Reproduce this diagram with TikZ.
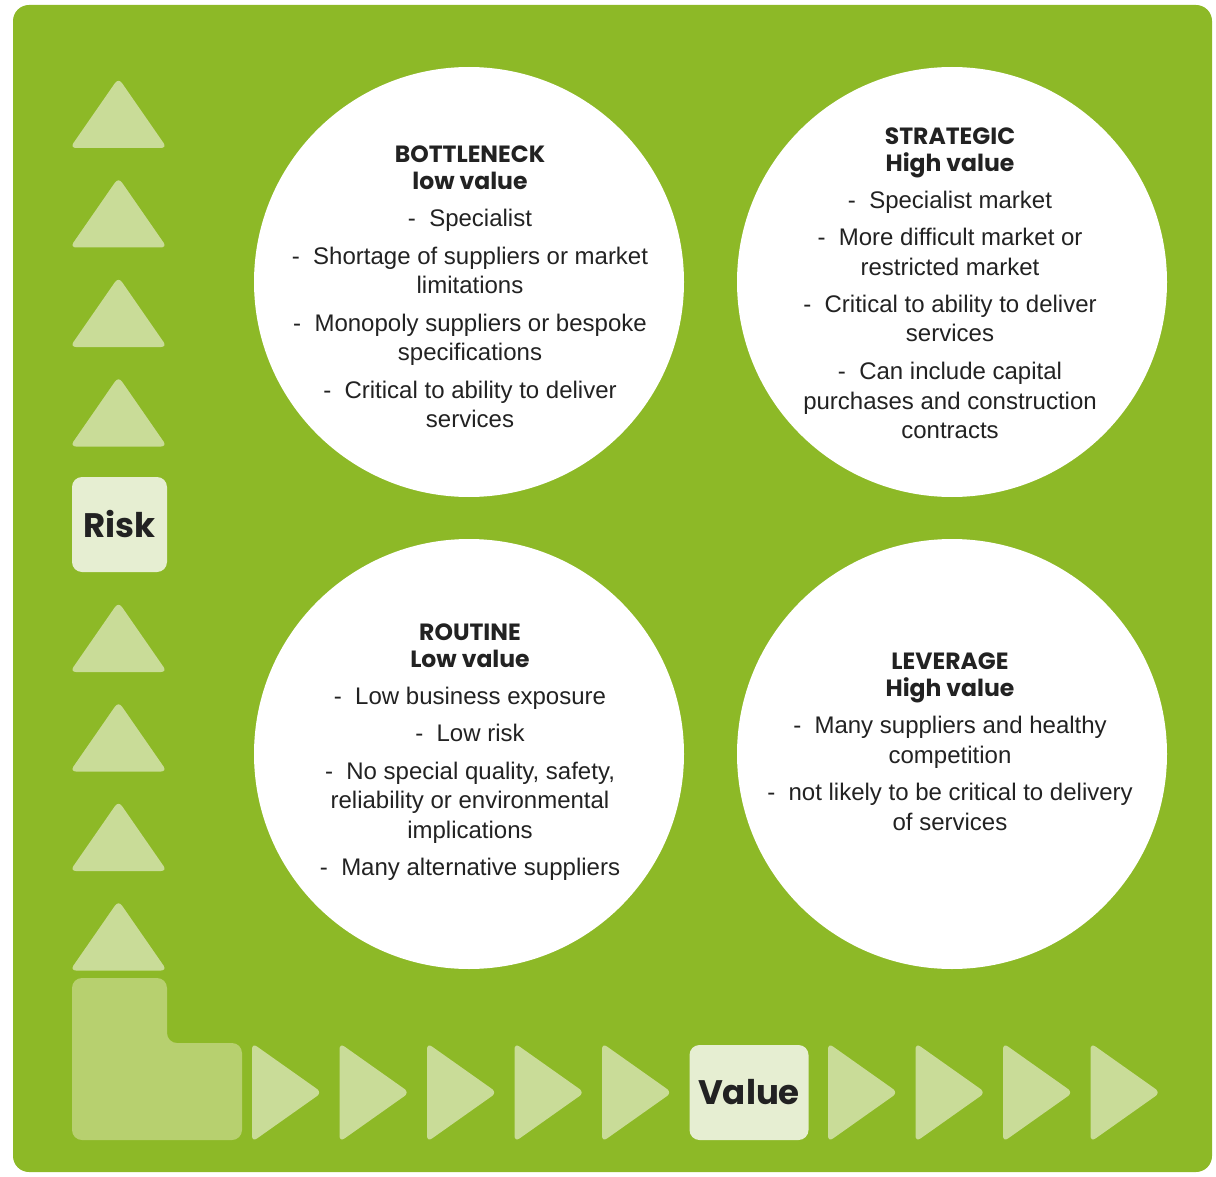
\documentclass[tikz,border=0pt]{standalone}
\usepackage{fontspec}
\setmainfont{Liberation Sans}
\newfontfamily\headfont{Poppins}
\usepackage{tikz}
\usetikzlibrary{positioning}

\definecolor{leafgreen}{HTML}{8DB927}
\definecolor{paletri}{HTML}{C9DC98}
\definecolor{palebox}{HTML}{E6EED2}
\definecolor{paleL}{HTML}{B7D06F}
\definecolor{inkgray}{HTML}{222222}

\newcommand{\quadhead}[2]{{\headfont\bfseries\fontsize{23.5}{27}\selectfont #1}\\[-2.5pt]{\headfont\bfseries\fontsize{23.5}{27}\selectfont #2}\\[7.5pt]}

\begin{document}
\begin{tikzpicture}[x=1pt,y=-1pt,
    quad/.style={circle, fill=white, minimum size=430pt, inner sep=0pt},
    quadtext/.style={align=center, text=inkgray, font=\fontsize{24}{29.5}\selectfont},
    arrowtri/.style={fill=paletri, rounded corners=6pt},
    axisbox/.style={fill=palebox, rounded corners=10pt, minimum width=95pt, minimum height=95pt,
      inner sep=0pt, text=inkgray, font=\headfont\bfseries\fontsize{34}{40}\selectfont}]
    \useasboundingbox (0,0) rectangle (1216,1177);
    \fill[leafgreen, rounded corners=16pt] (13,5) rectangle (1212,1172);

    % risk axis
    \foreach \t in {80,179.5,279,378.5,604,703.5,803,902.5}
        \fill[arrowtri] (70,\t+68) -- (118.5,\t-2) -- (167,\t+68) -- cycle;
    \node[axisbox] (risk) at (119.5,524.5) {Risk};

    % corner
    \fill[paleL, rounded corners=10pt] (72,978) -- (167,978) -- (167,1043) -- (242,1043)
        -- (242,1140) -- (72,1140) -- cycle;

    % value axis
    \foreach \l in {252,339.5,427,514.5,602,828,915.5,1003,1090.5}
        \fill[arrowtri] (\l,1043) -- (\l+70,1092.5) -- (\l,1142) -- cycle;
    \node[axisbox, minimum width=119pt] (value) at (749,1092.5) {Value};

    % quadrants
    \node[quad] (bottleneck) at (469,282) {};
    \node[quad] (strategic) at (952,282) {};
    \node[quad] (routine) at (469,754) {};
    \node[quad] (leverage) at (952,754) {};

    \node[quadtext] (bottlenecktxt) at (470,287) {\quadhead{BOTTLENECK}{low value}
        -\ \ Specialist\\[8pt]
        -\ \ Shortage of suppliers or market\\ limitations\\[8pt]
        -\ \ Monopoly suppliers or bespoke\\ specifications\\[8pt]
        -\ \ Critical to ability to deliver\\ services};
    \node[quadtext] (strategictxt) at (950,283) {\quadhead{STRATEGIC}{High value}
        -\ \ Specialist market\\[8pt]
        -\ \ More difficult market or\\ restricted market\\[8pt]
        -\ \ Critical to ability to deliver\\ services\\[8pt]
        -\ \ Can include capital\\ purchases and construction\\ contracts};
    \node[quadtext] (routinetxt) at (470,752) {\quadhead{ROUTINE}{Low value}
        -\ \ Low business exposure\\[8pt]
        -\ \ Low risk\\[8pt]
        -\ \ No special quality, safety,\\ reliability or environmental\\ implications\\[8pt]
        -\ \ Many alternative suppliers};
    \node[quadtext] (leveragetxt) at (950,742) {\quadhead{LEVERAGE}{High value}
        -\ \ Many suppliers and healthy\\ competition\\[8pt]
        -\ \ not likely to be critical to delivery\\ of services};
\end{tikzpicture}
\end{document}
